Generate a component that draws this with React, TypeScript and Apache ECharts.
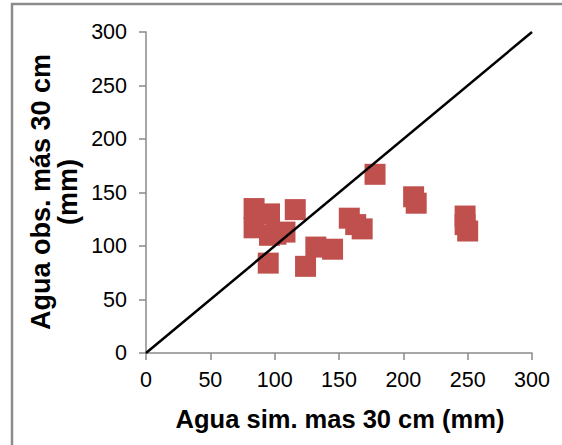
import React, { useEffect, useRef } from "react";
import * as echarts from "echarts";

const simWater = [84, 84, 96, 96, 101, 108, 116, 95, 124, 132, 145, 158, 163, 168, 178, 208, 210, 248, 248, 250];
const obsWater = [135, 117, 130, 110, 111, 113, 134, 84, 81, 99, 97, 126, 120, 116, 167, 146, 140, 128, 120, 114];
const lineX = [0, 300];
const lineY = [0, 300];
const axisTicks = [0, 50, 100, 150, 200, 250, 300];

const xTitle = "Agua sim. mas 30 cm (mm)";
const yTitle = "Agua obs. más 30 cm\n(mm)";

export default function App() {
  const ref = useRef<HTMLDivElement>(null);
  useEffect(() => {
    if (!ref.current) return;
    const chart = echarts.init(ref.current, null, { renderer: "svg" });
    const font = "'Liberation Sans', Arial, sans-serif";
    const axisCommon = {
      min: axisTicks[0],
      max: axisTicks[axisTicks.length - 1],
      interval: axisTicks[1] - axisTicks[0],
      splitLine: { show: false },
      axisLine: { show: true, onZero: false, lineStyle: { color: "#8a8a8a", width: 1.5 } },
      axisTick: { show: true, inside: false, length: 7, lineStyle: { color: "#8a8a8a", width: 1.5 } },
    };
    chart.setOption({
      animation: false,
      backgroundColor: "#ffffff",
      grid: { left: 146, right: 30, top: 32, bottom: 92, containLabel: false },
      xAxis: {
        type: "value",
        ...axisCommon,
        axisLabel: { color: "#000", fontSize: 21.5, fontFamily: font, margin: 16 },
      },
      yAxis: {
        type: "value",
        ...axisCommon,
        axisLabel: { color: "#000", fontSize: 21.5, fontFamily: font, margin: 19 },
      },
      graphic: [
        {
          type: "rect",
          shape: { x: 12, y: 4, width: 600, height: 500 },
          style: { fill: "none", stroke: "#8c8c8c", lineWidth: 2.5 },
          silent: true,
        },
        {
          type: "text",
          x: 340,
          y: 419,
          style: {
            text: xTitle,
            fontSize: 25.5,
            fontWeight: "bold",
            fontFamily: font,
            fill: "#000",
            textAlign: "center",
            textVerticalAlign: "middle",
          },
        },
        {
          type: "text",
          x: 54,
          y: 192,
          rotation: Math.PI / 2,
          style: {
            text: yTitle,
            fontSize: 27,
            fontWeight: "bold",
            fontFamily: font,
            fill: "#000",
            lineHeight: 27,
            textAlign: "center",
            textVerticalAlign: "middle",
          },
        },
      ],
      series: [
        {
          type: "scatter",
          data: simWater.map((x, i) => [x, obsWater[i]]),
          symbol: "rect",
          symbolSize: 21,
          itemStyle: { color: "#C0504D", opacity: 1 },
          z: 2,
        },
        {
          type: "line",
          data: lineX.map((x, i) => [x, lineY[i]]),
          showSymbol: false,
          symbol: "none",
          lineStyle: { color: "#000", width: 2.5 },
          z: 3,
        },
      ],
    });
    return () => chart.dispose();
  }, []);
  return (
    <div
      ref={ref}
      style={{ position: "fixed", left: 0, top: 0, width: 562, height: 445, background: "#fff" }}
    />
  );
}
